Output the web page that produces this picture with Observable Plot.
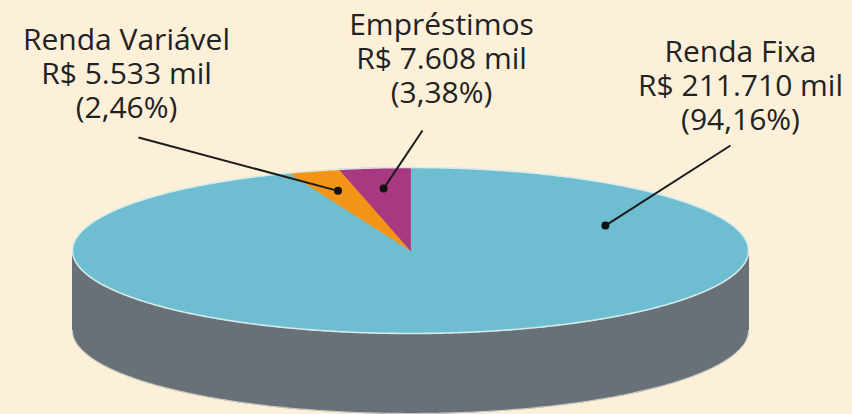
<!DOCTYPE html>
<html>
<head>
<meta charset="utf-8">
<script src="https://cdn.jsdelivr.net/npm/d3@7"></script>
<script src="https://cdn.jsdelivr.net/npm/@observablehq/plot@0.6"></script>
<style>
  html, body { margin: 0; padding: 0; background: #fdf0d9; }
  #chart { width: 852px; height: 414px; }
</style>
</head>
<body>
<div id="chart"></div>
<script>
// ---- Data ----
const categories = ["Renda Fixa", "Renda Variável", "Empréstimos"];
const values = [211710, 5533, 7608]; // R$ mil
const valueLabels = ["R$ 211.710 mil", "R$ 5.533 mil", "R$ 7.608 mil"];
const percentLabels = ["(94,16%)", "(2,46%)", "(3,38%)"];

// ---- Styles / layout ----
const colors = ["#6ebdd0", "#f39416", "#a8387f"];
const sideColor = "#687078";
const bg = "#fdf0d9";
const geom = {cx: 410, cy: 250, rx: 338, ry: 83, depth: 80};
const labelLayout = [
  {tx: 740, ty: 40, lx: 730, ly: 145, angle: 62.5, r: 0.65},
  {tx: 126, ty: 28, lx: 138, ly: 137, angle: null, r: 0.75},
  {tx: 441, ty: 13, lx: 422, ly: 130, angle: null, r: 0.75}
];
const lineGap = 34; // px between text lines

const rows = categories.map((c, i) => ({cat: c, value: values[i], color: colors[i], i}));
const arcs = d3.pie().sort(null).value(d => d.value)(rows);

const proj = (a, r = 1, dz = 0) => ({
  x: geom.cx + geom.rx * r * Math.sin(a),
  y: geom.cy - geom.ry * r * Math.cos(a) + dz
});

function arcPoints(a0, a1, dz = 0) {
  const n = Math.max(2, Math.ceil(Math.abs(a1 - a0) / (Math.PI / 360)));
  return d3.range(n + 1).map(k => proj(a0 + (a1 - a0) * k / n, 1, dz));
}

// side wall (front half)
const sideTop = arcPoints(Math.PI / 2, 3 * Math.PI / 2, 0);
const sideBottom = arcPoints(3 * Math.PI / 2, Math.PI / 2, geom.depth);
const sidePoly = [...sideTop, ...sideBottom, sideTop[0]];

// top slices
const slicePolys = arcs.map(a => {
  const c = proj(0, 0);
  return {color: a.data.color, pts: [c, ...arcPoints(a.startAngle, a.endAngle), c]};
});
const rim = arcPoints(0, 2 * Math.PI);

// label anchors
const anchors = arcs.map((a, i) => {
  const L = labelLayout[i];
  const ang = L.angle == null ? (a.startAngle + a.endAngle) / 2 : L.angle * Math.PI / 180;
  const p = proj(ang, L.r);
  return {x: p.x, y: p.y, lx: L.lx, ly: L.ly, tx: L.tx, ty: L.ty};
});
// one text row per label line
const textRows = anchors.flatMap((a, i) =>
  [categories[i], valueLabels[i], percentLabels[i]].map((t, k) => ({x: a.tx, y: a.ty + k * lineGap, t}))
);

const marks = [
  Plot.line(sidePoly, {x: "x", y: "y", fill: sideColor, stroke: sideColor, strokeWidth: 1}),
  Plot.line(sideBottom, {x: "x", y: "y", stroke: "#fff6e6", strokeWidth: 1.2, strokeOpacity: 0.6}),
  ...slicePolys.map(s => Plot.line(s.pts, {x: "x", y: "y", fill: s.color, stroke: s.color, strokeWidth: 0.8, curve: "linear"})),
  Plot.line(rim, {x: "x", y: "y", stroke: "#dff1ee", strokeWidth: 1.6, strokeOpacity: 0.9}),
  Plot.link(anchors, {x1: "lx", y1: "ly", x2: "x", y2: "y", stroke: "#1c1c1c", strokeWidth: 2}),
  Plot.dot(anchors, {x: "x", y: "y", r: 4, fill: "#111", stroke: null}),
  Plot.text(textRows, {x: "x", y: "y", text: "t", lineAnchor: "top",
    fontSize: 30, fontWeight: 500, fill: "#222", textAnchor: "middle"})
];

const chart = Plot.plot({
  width: 852,
  height: 414,
  margin: 0,
  x: {axis: null, domain: [0, 852], range: [0, 852]},
  y: {axis: null, domain: [0, 414], range: [0, 414]},
  style: {background: bg, fontFamily: "'Open Sans', sans-serif"},
  marks
});
document.getElementById("chart").append(chart);
</script>
</body>
</html>
